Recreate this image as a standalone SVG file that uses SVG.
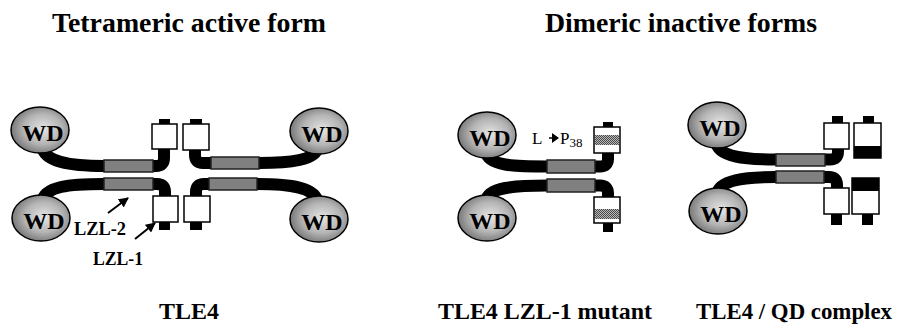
<svg xmlns="http://www.w3.org/2000/svg" width="901" height="327" viewBox="0 0 901 327">
  <defs>
    <radialGradient id="wdGrad" cx="0.55" cy="0.48" r="0.6">
      <stop offset="0" stop-color="#e6e6e6"/>
      <stop offset="0.55" stop-color="#b4b4b4"/>
      <stop offset="1" stop-color="#6a6a6a"/>
    </radialGradient>
    <pattern id="checks" width="2" height="2" patternUnits="userSpaceOnUse">
      <rect width="2" height="2" fill="#b8b8b8"/>
      <rect width="1" height="1" fill="#4a4a4a"/>
      <rect x="1" y="1" width="1" height="1" fill="#4a4a4a"/>
    </pattern>
    <marker id="head" viewBox="0 0 10 10" refX="9" refY="5" markerWidth="5" markerHeight="5" orient="auto" markerUnits="strokeWidth">
      <path d="M0,0 L10,5 L0,10 Z" fill="#000"/>
    </marker>
    <style>
      .band { fill: none; stroke: #000; stroke-width: 12; stroke-linejoin: round; }
      .wd { fill: url(#wdGrad); stroke: #000; stroke-width: 1.5; }
      .wdt { font-family: "Liberation Serif", "Times New Roman", serif; font-weight: bold; font-size: 24px; text-anchor: middle; fill: #000; }
      .lzl { fill: #808080; stroke: #222; stroke-width: 1.5; }
      .box { fill: #fff; stroke: #000; stroke-width: 1.5; }
      .cap { fill: #000; }
      .hatch { fill: url(#checks); }
      .title { font-family: "Liberation Serif", "Times New Roman", serif; font-weight: bold; font-size: 28px; fill: #000; }
      .label { font-family: "Liberation Serif", "Times New Roman", serif; font-weight: bold; font-size: 24px; fill: #000; }
      .tag { font-family: "Liberation Serif", "Times New Roman", serif; font-weight: bold; font-size: 18px; fill: #000; }
      .mut { font-family: "Liberation Serif", "Times New Roman", serif; font-size: 17px; fill: #000; }
      .arrow { stroke: #000; stroke-width: 2; fill: none; }
    </style>
  </defs>

  <!-- headings -->
  <text class="title" x="52" y="32" textLength="274" lengthAdjust="spacingAndGlyphs">Tetrameric active form</text>
  <text class="title" x="545" y="32" textLength="272" lengthAdjust="spacingAndGlyphs">Dimeric inactive forms</text>

  <!-- tetramer: upper left monomer -->
  <g id="tet-ul">
    <path class="band" d="M42 146 C44 162 70 166 104 166 L156 166 Q164 166 164 158 L164 149"/>
    <ellipse class="wd" cx="40" cy="130" rx="29" ry="23"/>
    <text class="wdt" x="43" y="141">WD</text>
    <rect class="lzl" x="104" y="160" width="49" height="12"/>
    <rect class="box" x="152" y="124" width="25" height="25"/>
    <rect class="cap" x="159" y="119" width="11" height="5"/>
  </g>

  <!-- tetramer: lower left monomer -->
  <g id="tet-ll">
    <path class="band" d="M42 202 C44 186 70 184 104 184 L157 184 Q165 184 165 192 L165 197"/>
    <ellipse class="wd" cx="41" cy="218" rx="29" ry="23"/>
    <text class="wdt" x="44" y="229">WD</text>
    <rect class="lzl" x="104" y="178" width="49" height="12"/>
    <rect class="box" x="153" y="196" width="25" height="26"/>
    <rect class="cap" x="159" y="222" width="11" height="8"/>
  </g>

  <!-- tetramer: upper right monomer -->
  <g id="tet-ur">
    <path class="band" d="M318 147 C316 160 290 163 259 163 L203 163 Q195 163 195 155 L195 149"/>
    <ellipse class="wd" cx="319" cy="131" rx="29" ry="23"/>
    <text class="wdt" x="322" y="142">WD</text>
    <rect class="lzl" x="211" y="157" width="48" height="12"/>
    <rect class="box" x="183" y="124" width="26" height="26"/>
    <rect class="cap" x="190" y="119" width="12" height="5"/>
  </g>

  <!-- tetramer: lower right monomer -->
  <g id="tet-lr">
    <path class="band" d="M318 203 C316 187 290 184 257 184 L204 184 Q196 184 196 192 L196 197"/>
    <ellipse class="wd" cx="319" cy="219" rx="29" ry="23"/>
    <text class="wdt" x="322" y="230">WD</text>
    <rect class="lzl" x="209" y="178" width="48" height="12"/>
    <rect class="box" x="184" y="196" width="26" height="26"/>
    <rect class="cap" x="190" y="222" width="12" height="8"/>
  </g>

  <!-- LZL-1 mutant dimer: upper monomer -->
  <g id="mut-top">
    <path class="band" d="M486 152 C488 166 515 166.5 547 166.5 L600 166.5 Q608 166.5 608 158.5 L608 152"/>
    <ellipse class="wd" cx="487" cy="135" rx="29" ry="23"/>
    <text class="wdt" x="490" y="146">WD</text>
    <rect class="lzl" x="547" y="160" width="48" height="13"/>
    <rect class="box" x="594" y="127" width="26" height="26"/>
    <rect class="hatch" x="595" y="135" width="24" height="10"/>
    <rect class="cap" x="603" y="122" width="10" height="5"/>
  </g>

  <!-- LZL-1 mutant dimer: lower monomer -->
  <g id="mut-bottom">
    <path class="band" d="M486 201 C488 187 515 185.5 547 185.5 L600 185.5 Q608 185.5 608 193.5 L608 198"/>
    <ellipse class="wd" cx="487" cy="218" rx="29" ry="23"/>
    <text class="wdt" x="490" y="229">WD</text>
    <rect class="lzl" x="547" y="179" width="48" height="13"/>
    <rect class="box" x="594" y="197" width="26" height="26"/>
    <rect class="hatch" x="595" y="209" width="24" height="10"/>
    <rect class="cap" x="603" y="223" width="10" height="9"/>
  </g>

  <!-- TLE4 / QD complex: upper TLE4 monomer -->
  <g id="qd-tle-top">
    <path class="band" d="M716 142 C718 157 745 159.5 776 159.5 L830 159.5 Q838 159.5 838 151.5 L838 148"/>
    <ellipse class="wd" cx="717" cy="125" rx="29" ry="23"/>
    <text class="wdt" x="720" y="136">WD</text>
    <rect class="lzl" x="776" y="154" width="49" height="12"/>
    <rect class="box" x="824" y="123" width="25" height="26"/>
    <rect class="cap" x="832" y="116" width="11" height="7"/>
  </g>

  <!-- TLE4 / QD complex: upper QD partner -->
  <g id="qd-top">
    <rect class="box" x="854" y="123" width="27" height="35"/>
    <rect class="cap" x="854" y="146" width="27" height="12"/>
    <rect class="cap" x="863" y="116" width="11" height="7"/>
  </g>

  <!-- TLE4 / QD complex: lower TLE4 monomer -->
  <g id="qd-tle-bottom">
    <path class="band" d="M717 194 C719 180 745 177 776 177 L829 177 Q837 177 837 185 L837 189"/>
    <ellipse class="wd" cx="718" cy="211" rx="29" ry="23"/>
    <text class="wdt" x="721" y="222">WD</text>
    <rect class="lzl" x="776" y="171" width="48" height="12"/>
    <rect class="box" x="824" y="188" width="25" height="26"/>
    <rect class="cap" x="831" y="214" width="11" height="11"/>
  </g>

  <!-- TLE4 / QD complex: lower QD partner -->
  <g id="qd-bottom">
    <rect class="box" x="852" y="178" width="27" height="36"/>
    <rect class="cap" x="852" y="178" width="27" height="13"/>
    <rect class="cap" x="862" y="214" width="11" height="11"/>
  </g>

  <!-- pointers to the leucine zipper-like motifs -->
  <g id="connectors">
    <line class="arrow" x1="108" y1="213" x2="128" y2="198" marker-end="url(#head)"/>
    <line class="arrow" x1="135" y1="239" x2="155" y2="223" marker-end="url(#head)"/>
    <line x1="549" y1="138" x2="553" y2="138" stroke="#000" stroke-width="1.5"/>
    <path d="M552 133 L559 138 L552 143 Z" fill="#000"/>
  </g>

  <!-- motif labels -->
  <text class="tag" x="74" y="235" textLength="52" lengthAdjust="spacingAndGlyphs">LZL-2</text>
  <text class="tag" x="93" y="265" textLength="50" lengthAdjust="spacingAndGlyphs">LZL-1</text>
  <text class="mut" x="532" y="144">L</text>
  <text class="mut" x="560" y="144">P<tspan font-size="13" dy="3">38</tspan></text>

  <!-- captions -->
  <text class="label" x="159" y="319" textLength="60" lengthAdjust="spacingAndGlyphs">TLE4</text>
  <text class="label" x="438" y="319" textLength="214" lengthAdjust="spacingAndGlyphs">TLE4 LZL-1 mutant</text>
  <text class="label" x="696" y="319" textLength="196" lengthAdjust="spacingAndGlyphs">TLE4 / QD complex</text>
</svg>
